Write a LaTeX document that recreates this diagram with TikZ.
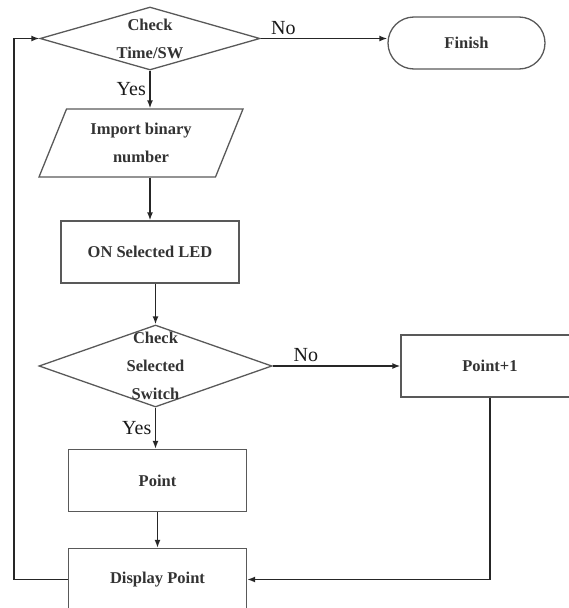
\documentclass[tikz,border=0pt]{standalone}
\usepackage{fontspec}
\setmainfont{Liberation Serif}
\usetikzlibrary{positioning,shapes,arrows.meta}

\begin{document}
\begin{tikzpicture}[
    x=1pt, y=-1pt,
    every node/.style={
        text=black!80,
        align=center,
        font=\bfseries\fontsize{16.5}{28}\selectfont
    },
    process/.style={draw=black!65, line width=1.3pt, minimum width=178pt, minimum height=62pt},
    decision/.style={draw=black!65, line width=1.3pt, diamond, shape aspect=3, inner sep=-10pt},
    io/.style={draw=black!65, line width=1.3pt, trapezium, trapezium left angle=60, trapezium right angle=120,
        trapezium stretches body, minimum width=204pt, minimum height=68pt, inner sep=4pt},
    terminal/.style={draw=black!65, line width=1.3pt, rounded corners=26pt, minimum width=157pt, minimum height=52pt},
    lbl/.style={font=\fontsize{20}{24}\selectfont, text=black!90},
    arrow/.style={-{Latex[length=8pt,width=6pt]}, line width=1.7pt, color=black!85}
]
\useasboundingbox (0,0) rectangle (569,608);
\clip (0,0) rectangle (569,608);

% Decision at the top, finish to its right
\node[decision, minimum width=220pt, minimum height=63pt] (check) at (150,38.5) {Check\\Time/SW};
\node[terminal] (finish) at (466.5,43) {Finish};

% Main column
\node[io] (import) at (141,143) {Import binary\\number};
\node[process] (led) at (150,252) {ON Selected LED};
\node[decision, minimum width=233pt, minimum height=82pt] (selsw) at (155.5,366) {Check\\Selected\\Switch};
\node[process] (point) at (157.5,480.5) {Point};
\node[process] (display) at (157.5,579.5) {Display Point};

% Right branch
\node[process] (pointinc) at (490,366) {Point+1};

% Arrows
\draw[arrow] (check.south) -- node[lbl, left] {Yes} (check.south |- import.north);
\draw[arrow] (check.east) -- node[lbl, above, pos=0.18] {No} (check.east -| finish.west);
\draw[arrow] (import.south -| led.north) -- (led.north);
\draw[arrow] (selsw.north |- led.south) -- (selsw.north);
\draw[arrow] (selsw.east) -- node[lbl, above, pos=0.26] {No} (pointinc.west);
\draw[arrow] (selsw.south) -- node[lbl, left] {Yes} (selsw.south |- point.north);
\draw[arrow] (point.south) -- (display.north);
\draw[arrow] (pointinc.south) |- (display.east);
\draw[arrow] (display.west) -- ++(-54,0) |- (check.west);

\end{tikzpicture}
\end{document}
